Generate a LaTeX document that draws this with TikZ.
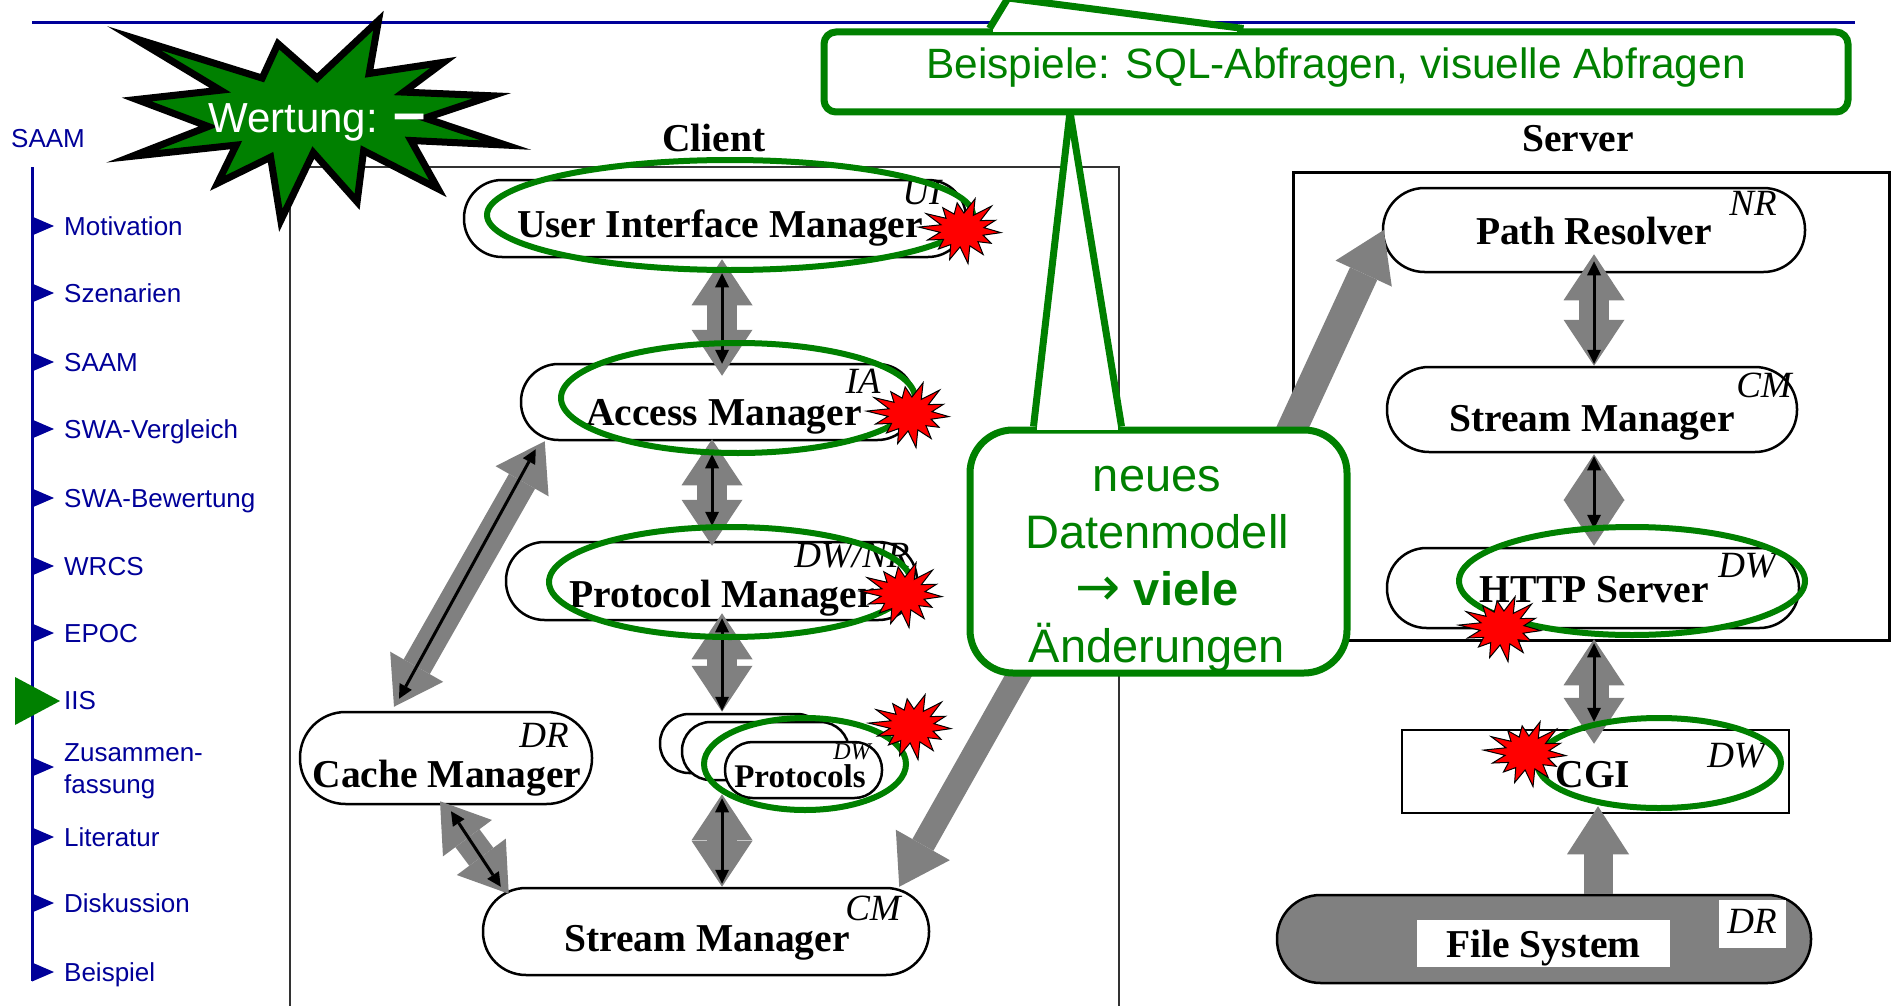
\documentclass[tikz,border=0pt]{standalone}
\usepackage{fontspec}
\setmainfont{Liberation Serif}
\newfontfamily\arial{Liberation Sans}
\newfontfamily\dejavu{DejaVu Sans}
\usetikzlibrary{arrows.meta,calc}
\pgfdeclarelayer{background}
\pgfsetlayers{background,main}
\definecolor{navy}{RGB}{0,0,153}
\definecolor{pgreen}{RGB}{0,128,0}
\definecolor{agray}{RGB}{128,128,128}
\newcommand{\redboom}[2]{%
  \draw[fill=red, draw=black, line width=1pt, line join=miter, shift={(#1,#2)}]
    plot[samples at={0,...,27}, variable=\vv]
      ({1.3*(mod(\vv,2)==0 ? 30+4*sin(\vv*137) : 17)*cos(\vv*360/28+5)},
       {(mod(\vv,2)==0 ? 30+4*sin(\vv*137) : 17)*sin(\vv*360/28+5)}) -- cycle;}
\begin{document}
\begin{tikzpicture}[x=1pt,y=-1pt,
  box/.style={draw=black, line width=2.5pt, fill=white, inner sep=0pt},
  bt/.style={font=\fontsize{39.5}{42}\selectfont\bfseries, inner sep=0pt, anchor=base},
  lb/.style={font=\fontsize{37}{40}\selectfont\itshape, inner sep=0pt, anchor=base},
  menu/.style={font=\arial\fontsize{26}{32}\selectfont, text=navy, inner sep=0pt, anchor=base west},
  garrow/.style={draw=agray, line width=30pt, {Triangle[length=46pt,width=61pt,line width=0pt]}-{Triangle[length=46pt,width=61pt,line width=0pt]}},
  garrowone/.style={draw=agray, line width=#1, -{Triangle[length=48pt,width=62pt,line width=0pt]}},
  barrow/.style={draw=black, line width=3pt, {Triangle[length=14pt,width=14pt,line width=0pt]}-{Triangle[length=14pt,width=14pt,line width=0pt]}},
  gell/.style={draw=pgreen, line width=6pt},
  cbox/.style={draw=pgreen, line width=7pt, fill=white, inner sep=0pt},
  cedge/.style={draw=pgreen, line width=7pt, line join=miter}
]
\useasboundingbox (0,0) rectangle (1892,1006);
\fill[white] (0,0) rectangle (1892,1006);

% ---------- header line and menu ----------
\draw[navy, line width=3pt] (32,23) -- (1855,23);
\draw[navy, line width=3pt] (32,167) -- (32,981);
\node[menu] (hsaam) at (11,147) {SAAM};
\foreach \yy in {226,293,362,429,498,566,633,767,837,903,972}
  \fill[navy] (32,\yy-9.5) -- (32,\yy+9.5) -- (54,\yy) -- cycle;
\fill[pgreen] (15,677) -- (15,725) -- (60,701) -- cycle;
\node[menu] (m1) at (64,235) {Motivation};
\node[menu] (m2) at (64,302) {Szenarien};
\node[menu] (m3) at (64,371) {SAAM};
\node[menu] (m4) at (64,438) {SWA-Vergleich};
\node[menu] (m5) at (64,507) {SWA-Bewertung};
\node[menu] (m6) at (64,575) {WRCS};
\node[menu] (m7) at (64,642) {EPOC};
\node[menu] (m8) at (64,709) {IIS};
\node[menu, align=left, anchor=north west] (m9) at (64,743.4) {Zusammen-\\fassung};
\node[menu] (m10) at (64,846) {Literatur};
\node[menu] (m11) at (64,912) {Diskussion};
\node[menu] (m12) at (64,981) {Beispiel};

% ---------- frames ----------
\node[draw=black!80, line width=2pt, minimum width=829pt, minimum height=860pt, inner sep=0pt] (clientbox) at (704.5,597) {};
\node[draw=black, line width=3pt, minimum width=596pt, minimum height=468pt, inner sep=0pt] (serverbox) at (1591,406) {};
\node[bt] (tclient) at (714,152) {Client};
\node[bt] (tserver) at (1578,152) {Server};

% ---------- boxes ----------
\node[box, minimum width=502pt, minimum height=77pt, rounded corners=38pt] (ui) at (715,218.5) {};
\node[box, minimum width=394pt, minimum height=76pt, rounded corners=37.5pt] (ia) at (718,402) {};
\node[box, minimum width=411pt, minimum height=78pt, rounded corners=38.5pt] (pm) at (711.5,581) {};
\node[box, minimum width=166pt, minimum height=59pt, rounded corners=29pt] (prA) at (743,743.5) {};
\node[box, minimum width=167pt, minimum height=58pt, rounded corners=28.5pt] (prB) at (765.5,751) {};
\node[box, minimum width=157pt, minimum height=56pt, rounded corners=27.5pt] (prC) at (803.5,770) {};
\node[box, minimum width=446pt, minimum height=87pt, rounded corners=43pt] (smc) at (706,931.5) {};
\node[box, minimum width=292pt, minimum height=92pt, rounded corners=45.5pt] (cache) at (446,758) {};
\node[box, minimum width=422pt, minimum height=84pt, rounded corners=41.5pt] (pr) at (1594,230) {};
\node[box, minimum width=410pt, minimum height=85pt, rounded corners=42pt] (sms) at (1592,409.5) {};
\node[box, minimum width=412pt, minimum height=80pt, rounded corners=39.5pt] (http) at (1593,588) {};
\node[box, minimum width=387pt, minimum height=83pt] (cgi) at (1595.5,771.5) {};
\node[box, fill=agray, minimum width=534pt, minimum height=88pt, rounded corners=43.5pt] (fs) at (1544,939) {};
\node[fill=white, minimum width=253pt, minimum height=47pt, inner sep=0pt] (fsbg) at (1543.5,943.5) {};
\node[fill=white, minimum width=67pt, minimum height=48pt, inner sep=0pt] (drbg) at (1752.5,924) {};

% ---------- texts ----------
\node[bt] (tui) at (720,237) {User Interface Manager};
\node[lb] (lui) at (922,204) {UI};
\node[bt] (tia) at (724,425) {Access Manager};
\node[lb] (lia) at (863,393) {IA};
\node[bt] (tpm) at (722,607) {Protocol Manager};
\node[lb] (lpm) at (852,567) {DW/NR};
\node[bt, font=\fontsize{33}{36}\selectfont\bfseries] (tprot) at (800,787) {Protocols};
\node[lb, font=\fontsize{24}{26}\selectfont\itshape] (lprot) at (852,759) {DW};
\node[bt] (tsmc) at (707,951) {Stream Manager};
\node[lb] (lsmc) at (873,920) {CM};
\node[bt] (tcache) at (447,787) {Cache Manager};
\node[lb] (lcache) at (544,747) {DR};
\node[bt] (tpath) at (1594,244) {Path Resolver};
\node[lb] (lpath) at (1753,215) {NR};
\node[bt] (tsms) at (1592,431) {Stream Manager};
\node[lb] (lsms) at (1764,397) {CM};
\node[bt] (thttp) at (1594,602) {HTTP Server};
\node[lb] (lhttp) at (1747,577) {DW};
\node[bt] (tcgi) at (1593,787) {CGI};
\node[lb] (lcgi) at (1736,767) {DW};
\node[bt] (tfs) at (1543.5,957) {File System};
\node[lb] (lfs) at (1752,933) {DR};

% ---------- callout 2 corners (needed for arrow ends) ----------
\coordinate (c2nw) at (970,430);
\coordinate (c2se) at (1347,673);

% ---------- gray arrows ----------
\begin{pgfonlayer}{background}
\draw[garrowone=30pt] ($(sms.west)+(10,17)$) -- ($(c2nw)+(324,39)$);
\end{pgfonlayer}
\draw[garrow] ($(ui.south)+(7,1)$) -- ($(ia.north)+(4,13)$);
\draw[garrow] ($(ia.south)+(-6,-2)$) -- ($(pm.north)+(0.5,5)$);
\draw[garrow] ($(pm.south)+(10.5,-8)$) -- ($(prA.north)+(-21,-1)$);
\draw[garrow] ($(prA.south)+(-21,20)$) -- ($(smc.north)+(16,0)$);
\draw[garrow] ($(cache.north)+(-52,-4)$) -- ($(ia.south west)+(25,0)$);
\draw[garrow] ($(cache.south)+(-6,-4)$) -- ($(smc.north west)+(27,7)$);
\draw[garrow] ($(pr.south)+(0,-19)$) -- ($(sms.north)+(2,0)$);
\draw[garrow] ($(sms.south)+(2,1)$) -- ($(http.north)+(1,-1)$);
\draw[garrow] ($(http.south)+(1,10)$) -- ($(cgi.north)+(-1.5,15)$);
\draw[garrowone=29pt] ($(fs.north)+(54,0)$) -- ($(cgi.south)+(2.5,-8)$);
\draw[garrowone=24pt] ($(c2se)+(-286,-73)$) -- ($(smc.north east)+(-31,0)$);
\draw[garrowone=30pt] ($(c2nw)+(303,40)$) -- ($(pr.west)+(2,0)$);

% ---------- black arrows ----------
\draw[barrow] ($(ui.south)+(7,15)$) -- ($(ia.north)+(4,1)$);
\draw[barrow] ($(ia.south)+(-6,13)$) -- ($(pm.north)+(0.5,-15)$);
\draw[barrow] ($(pm.south)+(10.5,-3)$) -- ($(prA.north)+(-21,-2)$);
\draw[barrow] ($(prA.south)+(-21,24)$) -- ($(smc.north)+(16,-3)$);
\draw[barrow] ($(cache.north)+(-47,-12)$) -- ($(ia.south west)+(16,8)$);
\draw[barrow] ($(cache.south)+(5,6)$) -- ($(smc.north west)+(19,0)$);
\draw[barrow] ($(pr.south)+(0,-12)$) -- ($(sms.north)+(2,-2)$);
\draw[barrow] ($(sms.south)+(2,3)$) -- ($(http.north)+(1,-18)$);
\draw[barrow] ($(http.south)+(1,14)$) -- ($(cgi.north)+(-1.5,-7)$);

% ---------- green ellipses ----------
\draw[gell] (730,215) ellipse [x radius=243, y radius=55];
\draw[gell] (738,398) ellipse [x radius=177, y radius=55];
\draw[gell] (730,582) ellipse [x radius=181, y radius=55];
\draw[gell] (805,764) ellipse [x radius=101, y radius=46];
\draw[gell] (1632,581) ellipse [x radius=173, y radius=54];
\draw[gell] (1659,763) ellipse [x radius=122, y radius=45];

% ---------- red explosions ----------
\redboom{962}{230}
\redboom{910}{414}
\redboom{903}{594}
\redboom{912}{726}
\redboom{1502}{628}
\redboom{1527}{753}

% ---------- callout 2 ----------
\node[cbox, minimum width=377pt, minimum height=243pt, rounded corners=43pt] (c2) at (1158.5,551.5) {};
\coordinate (tip2) at (1070,112);
\fill[white] ($(c2.north west)+(67,0)$) -- (tip2) -- ($(c2.north west)+(155,0)$) -- cycle;
\fill[white] ($(c2.north west)+(70.5,-3.5)$) rectangle ($(c2.north west)+(151.5,3.5)$);
\draw[cedge] ($(c2.north west)+(67,0)$) -- (tip2) -- ($(c2.north west)+(155,0)$);
\node[font=\arial\fontsize{47}{57.3}\selectfont, text=pgreen, align=center, anchor=north, inner sep=0pt] (c2t) at (1157,465.6) {neues\\Datenmodell\\{\dejavu\fontsize{54}{57.3}\selectfont →} \textbf{viele}\\Änderungen};

% ---------- callout 1 ----------
\node[cbox, minimum width=1024pt, minimum height=80pt, rounded corners=12pt] (c1) at (1336,72) {};
\coordinate (tip1) at (1008,-2);
\fill[white] ($(c1.north west)+(169,0)$) -- (tip1) -- ($(c1.north west)+(423,0)$) -- cycle;
\fill[white] ($(c1.north west)+(172.5,-3.5)$) rectangle ($(c1.north west)+(416,3.5)$);
\draw[cedge] ($(c1.north west)+(169,0)$) -- (tip1) -- ($(c1.north west)+(423,0)$);
\node[font=\arial\fontsize{42.4}{46}\selectfont, text=pgreen, anchor=base, inner sep=0pt] (c1t) at (1336,79) {Beispiele: SQL-Abfragen, visuelle Abfragen};

% ---------- Wertung star ----------
\draw[fill=pgreen, draw=black, line width=7pt, line join=miter]
  (378.5,20.5) -- (369.2,73.5) -- (443.6,62.3) -- (403.6,92.1) -- (491.9,95.8) -- (425,118.1)
  -- (505.9,145.1) -- (411,140.5) -- (438,188.8) -- (363.6,150.7) -- (357.1,201.8) -- (313.3,152.6)
  -- (280.8,220.4) -- (270.6,157.2) -- (217.6,183.2) -- (236.2,145.1) -- (132,156.3) -- (208.3,126.5)
  -- (136.6,99.5) -- (220.3,90.2) -- (133.9,38.2) -- (262.2,78.1) -- (278,43.7) -- (317.1,78.1) -- cycle;
\node[font=\arial\fontsize{42}{46}\selectfont, text=white, anchor=base west, inner sep=0pt] (wert) at (208,133) {Wertung: {\bfseries\fontsize{58}{58}\selectfont –}};
\end{tikzpicture}
\end{document}
